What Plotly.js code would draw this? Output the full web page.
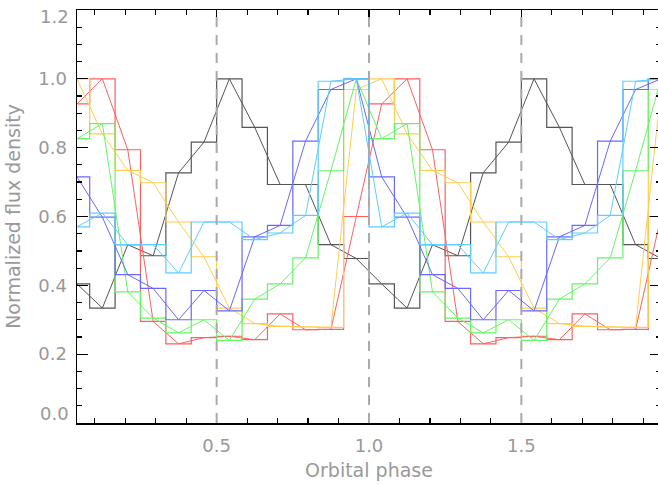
<!DOCTYPE html>
<html>
<head>
<meta charset="utf-8">
<script src="https://cdn.plot.ly/plotly-3.0.1.min.js"></script>
<style>
html,body{margin:0;padding:0;overflow:hidden;background:#fff;}
#chart{width:662px;height:485px;}
</style>
</head>
<body>
<div id="chart"></div>
<script>
// Phase-bin centres (12 bins per orbit), data repeated over two cycles
const phase = [0.04167,0.125,0.20833,0.29167,0.375,0.45833,0.54167,0.625,0.70833,0.79167,0.875,0.95833];
const black  = [0.404,0.334,0.518,0.486,0.727,0.816,1.000,0.859,0.693,0.693,0.518,0.478];
const red    = [0.927,1.000,0.794,0.295,0.230,0.248,0.252,0.242,0.317,0.271,0.272,0.600];
const yellow = [1.000,0.840,0.734,0.698,0.584,0.483,0.334,0.289,0.281,0.279,0.278,0.969];
const green  = [0.826,0.870,0.381,0.305,0.262,0.300,0.240,0.360,0.404,0.480,0.733,1.000];
const blue   = [0.715,0.598,0.431,0.391,0.300,0.385,0.326,0.541,0.574,0.819,0.969,1.000];
const cyan   = [0.570,0.610,0.518,0.518,0.436,0.584,0.584,0.533,0.552,0.603,0.993,1.000];
const xTickVals = [0.5,1.0,1.5];
const xTickText = ['0.5','1.0','1.5'];
const yTickVals = [0.2,0.4,0.6,0.8,1.0];
const yTickText = ['0.2','0.4','0.6','0.8','1.0'];
const yEndVals = [0.0,1.2];
const yEndText = ['0.0','1.2'];
const dashedPhases = [0.5,1.0,1.5];

const series = [
  {y:black,  c:'rgb(85,85,85)'},
  {y:red,    c:'rgb(255,95,95)'},
  {y:yellow, c:'rgb(255,205,80)'},
  {y:green,  c:'rgb(100,245,100)'},
  {y:blue,   c:'rgb(105,105,255)'},
  {y:cyan,   c:'rgb(95,205,255)'}
];
const xs = phase.concat(phase.map(p => p + 1));
const traces = [];
series.forEach(s => {
  const ys = s.y.concat(s.y);
  traces.push({x:xs, y:ys, mode:'lines', line:{shape:'hvh', color:s.c, width:1.2}, hoverinfo:'skip'});
  traces.push({x:xs, y:ys, mode:'lines', line:{shape:'linear', color:s.c, width:1}, hoverinfo:'skip'});
});

const lab = {family:'DejaVu Sans, sans-serif', size:18, color:'#999'};
const ttl = {family:'DejaVu Sans, sans-serif', size:19, color:'#999'};
const layout = {
  width:662, height:485,
  margin:{l:77, r:1, t:10, b:62},
  paper_bgcolor:'#fff', plot_bgcolor:'#fff',
  showlegend:false,
  xaxis:{
    range:[1/24, 47/24], showgrid:false, zeroline:false,
    showline:true, linecolor:'#000', linewidth:1.5, mirror:'allticks',
    ticks:'inside', ticklen:10, tickcolor:'#000', tickwidth:1.2,
    tickmode:'array', tickvals:xTickVals, ticktext:xTickText,
    tickfont:lab, ticklabelstandoff:6,
    minor:{ticks:'inside', ticklen:5, tickmode:'linear', tick0:0, dtick:0.1, tickcolor:'#000', tickwidth:1.2, showgrid:false},
    title:{text:'Orbital phase', font:ttl, standoff:8}
  },
  yaxis:{
    range:[0,1.2], showgrid:false, zeroline:false,
    showline:true, linecolor:'#000', linewidth:1.5, mirror:'allticks',
    ticks:'inside', ticklen:11, tickcolor:'#000', tickwidth:1.2,
    tickmode:'array', tickvals:yTickVals, ticktext:yTickText,
    tickfont:lab, ticklabelstandoff:5,
    minor:{ticks:'inside', ticklen:5, tickmode:'linear', tick0:0, dtick:0.05, tickcolor:'#000', tickwidth:1.2, showgrid:false},
    title:{text:'Normalized flux density', font:ttl, standoff:12}
  },
  annotations: [
    {xref:'paper', yref:'y', x:0, y:yEndVals[0], text:yEndText[0], showarrow:false, xanchor:'right', yanchor:'middle', xshift:-6, yshift:10, font:lab},
    {xref:'paper', yref:'y', x:0, y:yEndVals[1], text:yEndText[1], showarrow:false, xanchor:'right', yanchor:'middle', xshift:-6, yshift:-6, font:lab}
  ],
  shapes: dashedPhases.map(p => ({type:'line', xref:'x', yref:'paper', x0:p, x1:p, y0:0, y1:1,
    line:{color:'#aaa', width:2, dash:'10px,8px'}, layer:'above'}))
};
Plotly.newPlot('chart', traces, layout, {displayModeBar:false, staticPlot:true});
</script>
</body>
</html>
